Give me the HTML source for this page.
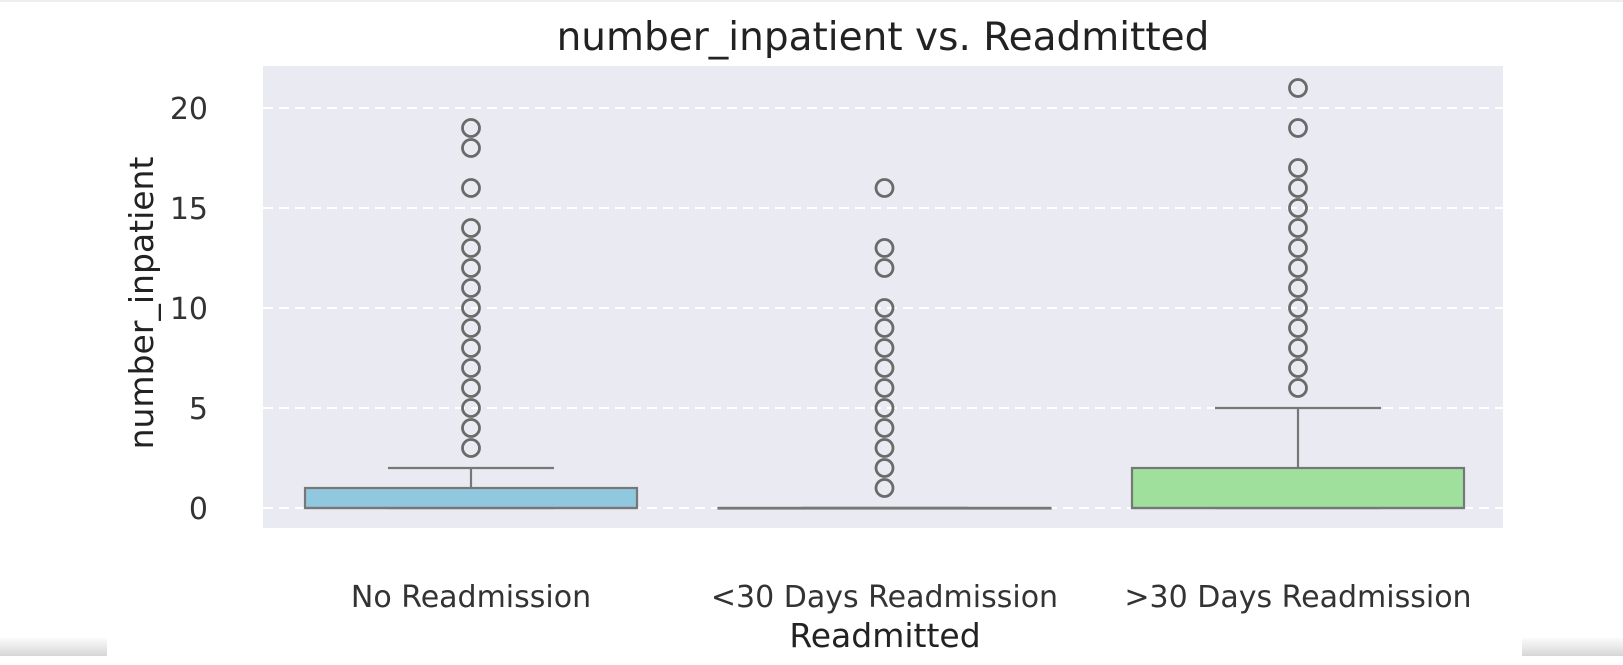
<!DOCTYPE html>
<html><head><meta charset="utf-8"><style>
body{margin:0;background:#fff;}
svg{display:block;font-family:"DejaVu Sans","Liberation Sans",sans-serif;}
</style></head><body>
<svg id="chart" width="1623" height="665" viewBox="0 0 1623 665" xmlns="http://www.w3.org/2000/svg">
<defs><linearGradient id="sg" x1="0" y1="0" x2="0" y2="1"><stop offset="0" stop-color="#fbfbfb"/><stop offset="1" stop-color="#d6d6d6"/></linearGradient></defs>
<rect x="0" y="0" width="1623" height="665" fill="#fff"/>
<rect x="0" y="0" width="1623" height="2" fill="#eeeeee"/>
<rect x="0" y="638" width="107" height="18" fill="url(#sg)"/>
<rect x="1522" y="638" width="101" height="18" fill="url(#sg)"/>
<rect x="263" y="66" width="1240" height="462" fill="#eaeaf2"/>
<g id="grid"></g>
<g id="boxes"></g>
<g id="ticks" fill="#333" font-size="30"></g>
<text x="883" y="50" text-anchor="middle" font-size="39" fill="#222">number_inpatient vs. Readmitted</text>
<text transform="translate(153,303) rotate(-90)" text-anchor="middle" font-size="33" fill="#222">number_inpatient</text>
<text x="885" y="647" text-anchor="middle" font-size="33" fill="#222">Readmitted</text>
</svg>
<script>
const categories=["No Readmission","<30 Days Readmission",">30 Days Readmission"];
const q1s=[0,0,0];
const medians=[0,0,0];
const q3s=[1,0,2];
const whiskLo=[0,0,0];
const whiskHi=[2,0,5];
const outliers=[[3,4,5,6,7,8,9,10,11,12,13,14,16,18,19],[1,2,3,4,5,6,7,8,9,10,12,13,16],[6,7,8,9,10,11,12,13,14,15,16,17,19,21]];
const colors=["#90c9df","#e9e9f1","#9ee09c"];
const yTicks=[0,5,10,15,20];
const NS="http://www.w3.org/2000/svg";
const y=v=>508-v*20;
const x=i=>471+i*413.5;
function mk(tag,attrs,parent){const e=document.createElementNS(NS,tag);for(const k in attrs)e.setAttribute(k,attrs[k]);parent.appendChild(e);return e;}
const grid=document.getElementById('grid'),boxes=document.getElementById('boxes'),ticks=document.getElementById('ticks');
yTicks.forEach(t=>{
  const l=mk('line',{x1:263,x2:1503,y1:y(t),y2:y(t),stroke:'#fff','stroke-width':2,'stroke-dasharray':'10,6'},grid);
  
  
  const tx=mk('text',{x:208,y:y(t)+11,'text-anchor':'end'},ticks);tx.textContent=t;
  
  
});
categories.forEach((c,i)=>{
  const cx=x(i),hw=166,cw=83;
  const g=mk('g',{},boxes);
  
  
  mk('line',{x1:cx,x2:cx,y1:y(q3s[i]),y2:y(whiskHi[i]),stroke:'#777','stroke-width':2.2},g);
  mk('line',{x1:cx-cw,x2:cx+cw,y1:y(whiskHi[i]),y2:y(whiskHi[i]),stroke:'#777','stroke-width':2.2},g);
  mk('line',{x1:cx-cw,x2:cx+cw,y1:y(whiskLo[i]),y2:y(whiskLo[i]),stroke:'#777','stroke-width':2.2},g);
  const b=mk('rect',{x:cx-hw,y:y(q3s[i]),width:2*hw,height:Math.max(0.5,y(q1s[i])-y(q3s[i])),fill:colors[i],stroke:'#777','stroke-width':2.2},g);
  
  
  mk('line',{x1:cx-hw,x2:cx+hw,y1:y(medians[i]),y2:y(medians[i]),stroke:'#777','stroke-width':2.2},g);
  outliers[i].forEach(v=>{
    const o=mk('circle',{cx:cx,cy:y(v),r:8.5,fill:'none',stroke:'#6a6a6a','stroke-width':2.8},g);
    
    
  });
  const t=mk('text',{x:cx,y:607,'text-anchor':'middle'},ticks);t.textContent=c;
  
  
});
</script>
</body></html>
